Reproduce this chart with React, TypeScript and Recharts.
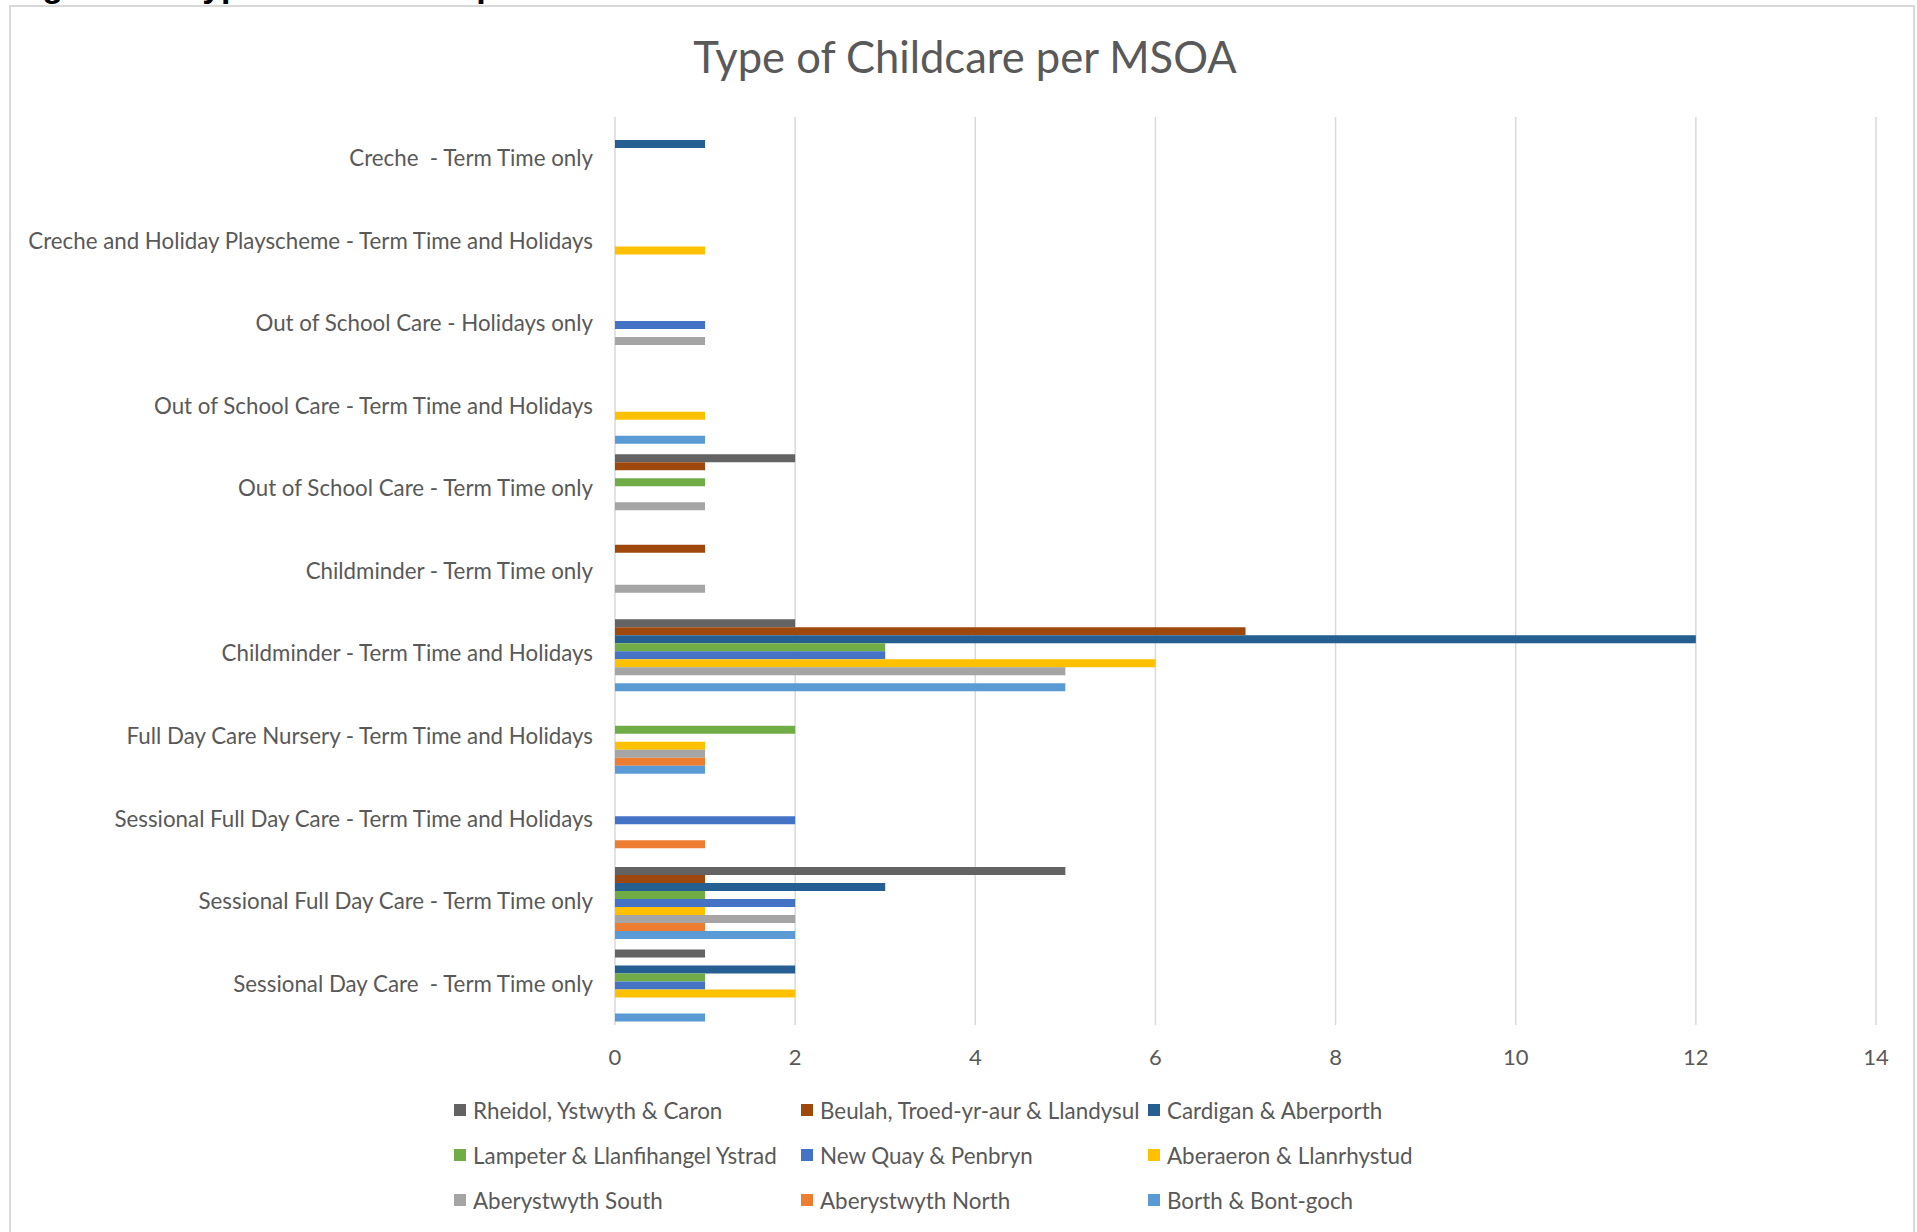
import { Bar, BarChart, CartesianGrid, XAxis, YAxis } from "recharts";

// categories, top to bottom as drawn (nbsp keeps the original double space)
const categories = [
  "Creche\u00A0 - Term Time only",
  "Creche and Holiday Playscheme - Term Time and Holidays",
  "Out of School Care - Holidays only",
  "Out of School Care - Term Time and Holidays",
  "Out of School Care - Term Time only",
  "Childminder - Term Time only",
  "Childminder - Term Time and Holidays",
  "Full Day Care Nursery - Term Time and Holidays",
  "Sessional Full Day Care - Term Time and Holidays",
  "Sessional Full Day Care - Term Time only",
  "Sessional Day Care\u00A0 - Term Time only",
];

const rheidol = [0, 0, 0, 0, 2, 0, 2, 0, 0, 5, 1];
const beulah = [0, 0, 0, 0, 1, 1, 7, 0, 0, 1, 0];
const cardigan = [1, 0, 0, 0, 0, 0, 12, 0, 0, 3, 2];
const lampeter = [0, 0, 0, 0, 1, 0, 3, 2, 0, 1, 1];
const newQuay = [0, 0, 1, 0, 0, 0, 3, 0, 2, 2, 1];
const aberaeron = [0, 1, 0, 1, 0, 0, 6, 1, 0, 1, 2];
const aberSouth = [0, 0, 1, 0, 1, 1, 5, 1, 0, 2, 0];
const aberNorth = [0, 0, 0, 0, 0, 0, 0, 1, 1, 1, 0];
const borth = [0, 0, 0, 1, 0, 0, 5, 1, 0, 2, 1];

const xTicks = [0, 2, 4, 6, 8, 10, 12, 14];

const series = [
  { key: "rheidol", name: "Rheidol, Ystwyth & Caron", values: rheidol, color: "#636363" },
  { key: "beulah", name: "Beulah, Troed-yr-aur & Llandysul", values: beulah, color: "#9E480E" },
  { key: "cardigan", name: "Cardigan & Aberporth", values: cardigan, color: "#255E91" },
  { key: "lampeter", name: "Lampeter & Llanfihangel Ystrad", values: lampeter, color: "#70AD47" },
  { key: "newQuay", name: "New Quay & Penbryn", values: newQuay, color: "#4472C4" },
  { key: "aberaeron", name: "Aberaeron & Llanrhystud", values: aberaeron, color: "#FFC000" },
  { key: "aberSouth", name: "Aberystwyth South", values: aberSouth, color: "#A5A5A5" },
  { key: "aberNorth", name: "Aberystwyth North", values: aberNorth, color: "#ED7D31" },
  { key: "borth", name: "Borth & Bont-goch", values: borth, color: "#5B9BD5" },
];

const data = categories.map((name, i) => {
  const row: Record<string, string | number> = { name };
  series.forEach((s) => {
    row[s.key] = s.values[i];
  });
  return row;
});

const FONT = "Lato, 'Open Sans', sans-serif";
const TEXT = "#595959";

export default function App() {
  return (
    <div style={{ position: "absolute", left: 0, top: 0, width: 1917, height: 1232, overflow: "hidden", background: "#fff", fontFamily: FONT }}>
      {/* document caption above the chart, mostly cut off by the crop */}
      <div style={{ position: "absolute", left: 0, top: 0, width: 900, height: 5, overflow: "hidden" }}>
        <div style={{ position: "absolute", left: 12, top: -32, fontSize: 34, lineHeight: "34px", fontWeight: 700, color: "#000", whiteSpace: "nowrap", fontFamily: "'Liberation Sans', sans-serif" }}>
          Figure 13: Type of Childcare per MSOA
        </div>
      </div>
      <div style={{ position: "absolute", left: 9, top: 5, width: 1906, height: 1300, border: "2px solid #D9D9D9", boxSizing: "border-box" }} />
      <div style={{ position: "absolute", left: 0, top: 30, width: 1930, textAlign: "center", fontSize: 43.5, lineHeight: "52px", color: TEXT }}>
        Type of Childcare per MSOA
      </div>
      <div style={{ position: "absolute", left: 0, top: 0 }}>
        <BarChart
          width={1917}
          height={1232}
          data={data}
          layout="vertical"
          margin={{ top: 117, right: 41, bottom: 167, left: 15 }}
          barCategoryGap={7}
          barGap={0}
        >
          <CartesianGrid horizontal={false} stroke="#D9D9D9" strokeWidth={1.5} />
          <XAxis
            type="number"
            domain={[0, 14]}
            ticks={xTicks}
            height={40}
            axisLine={false}
            tickLine={false}
            tickSize={0}
            tickMargin={24}
            tick={{ fontSize: 22, fill: TEXT, fontFamily: FONT }}
          />
          <YAxis
            type="category"
            dataKey="name"
            width={600}
            axisLine={false}
            tickLine={false}
            tickSize={0}
            tickMargin={22}
            interval={0}
            tick={{ fontSize: 22.3, fill: TEXT, fontFamily: FONT }}
          />
          {series.map((s) => (
            <Bar key={s.key} dataKey={s.key} name={s.name} fill={s.color} isAnimationActive={false} />
          ))}
        </BarChart>
      </div>
      {series.map((s, i) => {
        const col = i % 3;
        const row = Math.floor(i / 3);
        return (
          <div
            key={s.key}
            style={{ position: "absolute", left: 454 + col * 347, top: 1110 + row * 45 - 13, height: 26, display: "flex", alignItems: "center", fontSize: 22.4, color: TEXT, whiteSpace: "nowrap" }}
          >
            <span style={{ display: "inline-block", width: 12, height: 12, background: s.color, marginRight: 7 }} />
            {s.name}
          </div>
        );
      })}
    </div>
  );
}
